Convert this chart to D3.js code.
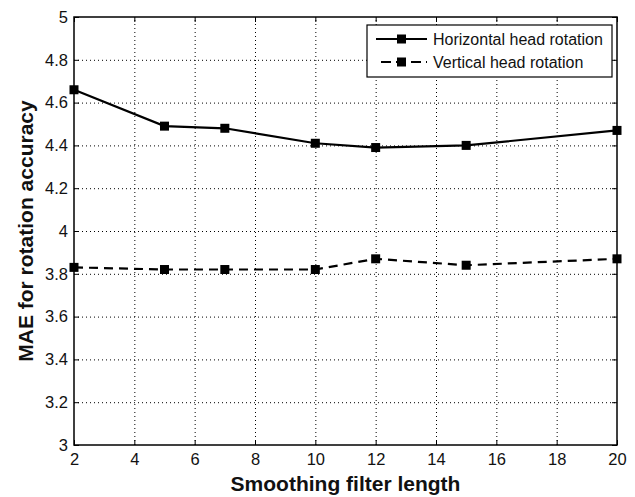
<!DOCTYPE html>
<html>
<head>
<meta charset="utf-8">
<script src="https://cdn.jsdelivr.net/npm/d3@7"></script>
<style>
  body { margin: 0; background: #fff; }
  svg { display: block; font-family: "Liberation Sans", Arial, sans-serif; }
  .tick text { fill: #111; font-size: 16.5px; }
  .grid line { stroke: #000; stroke-dasharray: 1,3; stroke-width: 1; }
  .grid path { display: none; }
</style>
</head>
<body>
<svg id="chart" width="635" height="497"></svg>
<script>
const filterLengths = [2, 5, 7, 10, 12, 15, 20];
const horizontal = [4.66, 4.49, 4.48, 4.41, 4.39, 4.40, 4.47];
const vertical = [3.83, 3.82, 3.82, 3.82, 3.87, 3.84, 3.87];
const xTicks = [2, 4, 6, 8, 10, 12, 14, 16, 18, 20];
const yTicks = [3, 3.2, 3.4, 3.6, 3.8, 4, 4.2, 4.4, 4.6, 4.8, 5];
const seriesNames = ["Horizontal head rotation", "Vertical head rotation"];

const svg = d3.select("#chart"),
    margin = { top: 17, right: 18, bottom: 52, left: 74 },
    width = +svg.attr("width") - margin.left - margin.right,
    height = +svg.attr("height") - margin.top - margin.bottom,
    g = svg.append("g").attr("transform", `translate(${margin.left},${margin.top})`);

const x = d3.scaleLinear().domain([2, 20]).range([0, width]);
const y = d3.scaleLinear().domain([3, 5]).range([height, 0]);

// dotted grid
g.append("g")
    .attr("class", "grid")
    .call(d3.axisLeft(y).tickValues(yTicks.slice(1, -1)).tickSize(-width).tickFormat(""));
g.append("g")
    .attr("class", "grid")
    .attr("transform", `translate(0,${height})`)
    .call(d3.axisBottom(x).tickValues(xTicks.slice(1, -1)).tickSize(-height).tickFormat(""));

// axes with inward ticks
const fmt = d => String(+d.toFixed(1));
g.append("g")
    .attr("transform", `translate(0,${height})`)
    .call(d3.axisBottom(x).tickValues(xTicks).tickSize(-5).tickPadding(8).tickFormat(fmt))
    .call(a => a.select(".domain").remove());
g.append("g")
    .call(d3.axisLeft(y).tickValues(yTicks).tickSize(-5).tickPadding(6).tickFormat(fmt))
    .call(a => a.select(".domain").remove());
g.append("g")
    .call(d3.axisTop(x).tickValues(xTicks).tickSize(-5).tickFormat(""))
    .call(a => a.select(".domain").remove());
g.append("g")
    .attr("transform", `translate(${width},0)`)
    .call(d3.axisRight(y).tickValues(yTicks).tickSize(-5).tickFormat(""))
    .call(a => a.select(".domain").remove());
g.selectAll(".tick line").attr("stroke", "#000");

g.append("rect")
    .attr("width", width)
    .attr("height", height)
    .attr("fill", "none")
    .attr("stroke", "#000")
    .attr("stroke-width", 1.5);

// series
const series = [
    { name: seriesNames[0], values: horizontal, dash: null },
    { name: seriesNames[1], values: vertical, dash: "9,6" }
];

const line = d3.line()
    .x(d => x(d[0]))
    .y(d => y(d[1]));

series.forEach(s => {
    const pts = filterLengths.map((f, i) => [f, s.values[i]]);
    g.append("path")
        .datum(pts)
        .attr("fill", "none")
        .attr("stroke", "#000")
        .attr("stroke-width", 2.2)
        .attr("stroke-dasharray", s.dash)
        .attr("d", line);
    g.selectAll(null)
        .data(pts)
        .enter().append("rect")
        .attr("x", d => x(d[0]) - 4.5)
        .attr("y", d => y(d[1]) - 4.5)
        .attr("width", 9)
        .attr("height", 9)
        .attr("fill", "#000");
});

// legend
const legend = svg.append("g").attr("transform", "translate(367,25)");
legend.append("rect")
    .attr("width", 245)
    .attr("height", 52)
    .attr("fill", "#fff")
    .attr("stroke", "#000")
    .attr("stroke-width", 1.2);

const item = legend.selectAll(".legend")
    .data(series)
    .enter().append("g")
    .attr("transform", (d, i) => `translate(0,${14 + i * 23})`);

item.append("line")
    .attr("x1", d => d.dash ? 14 : 9)
    .attr("x2", 60)
    .attr("stroke", "#000")
    .attr("stroke-width", 2.2)
    .attr("stroke-dasharray", d => d.dash ? "10,5" : null);
item.append("rect")
    .attr("x", 30)
    .attr("y", -4.5)
    .attr("width", 9)
    .attr("height", 9);
item.append("text")
    .attr("x", 66)
    .attr("dy", "0.36em")
    .style("font-size", "16px")
    .attr("fill", "#111")
    .text(d => d.name);

// axis titles
svg.append("text")
    .attr("x", margin.left + width / 2)
    .attr("y", 491)
    .attr("text-anchor", "middle")
    .style("font-size", "21px")
    .style("font-weight", "bold")
    .attr("fill", "#111")
    .text("Smoothing filter length");

svg.append("text")
    .attr("transform", `translate(33,${margin.top + height / 2}) rotate(-90)`)
    .attr("text-anchor", "middle")
    .style("font-size", "21px")
    .style("font-weight", "bold")
    .attr("fill", "#111")
    .text("MAE for rotation accuracy");
</script>
</body>
</html>
